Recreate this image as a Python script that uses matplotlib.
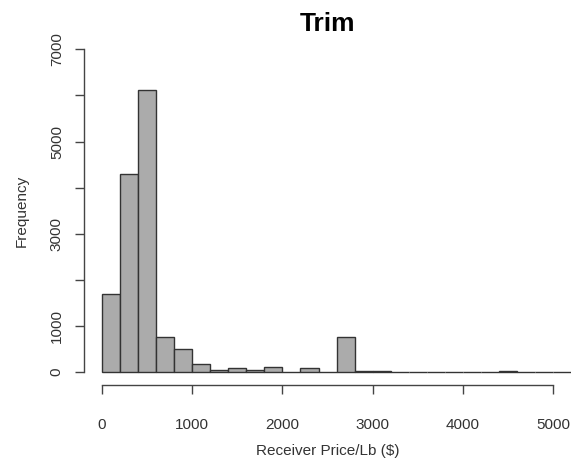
import numpy as np
import matplotlib.pyplot as plt

plt.rcParams['font.family'] = ['Liberation Sans', 'DejaVu Sans']

# histogram of receiver price per lb, 200-wide bins from 0 to 5200
bin_edges = np.arange(0, 5400, 200)
counts = [1690, 4300, 6120, 760, 505, 165, 50, 90, 40, 110,
          0, 90, 0, 765, 30, 30, 0, 0, 0, 0,
          0, 0, 30, 0, 0, 0]
x_ticks = [0, 1000, 2000, 3000, 4000, 5000]
y_ticks = [0, 1000, 2000, 3000, 4000, 5000, 6000, 7000]
y_labels = ['0', '1000', '', '3000', '', '5000', '', '7000']

fig = plt.figure(figsize=(5.73, 4.62), dpi=100)
ax = fig.add_axes([0.1466, 0.1667, 0.850, 0.7545])

ax.hist(bin_edges[:-1], bins=bin_edges, weights=counts,
        color='#ababab', edgecolor='#333333', linewidth=1.0)

ax.set_xlim(-200, 5200)
ax.set_ylim(-280, 7280)

for s in ['top', 'right']:
    ax.spines[s].set_visible(False)
ax.spines['left'].set_bounds(0, 7000)
ax.spines['bottom'].set_bounds(0, 5000)
for s in ['left', 'bottom']:
    ax.spines[s].set_color('#444444')
    ax.spines[s].set_linewidth(1.0)

ax.set_xticks(x_ticks)
ax.set_yticks(y_ticks)
ax.set_yticklabels(y_labels, rotation=90, va='center')
ax.tick_params(axis='both', length=6.5, width=1.0, color='#444444',
               labelsize=11, labelcolor='#333333')
ax.tick_params(axis='x', pad=17)
ax.tick_params(axis='y', pad=8)

ax.set_xlabel('Receiver Price/Lb ($)', fontsize=11, color='#333333', labelpad=9)
ax.set_ylabel('Frequency', fontsize=11, color='#333333', labelpad=15.5)
ax.set_title('Trim', fontsize=19, fontweight='bold', pad=4)

fig.savefig('out.png', dpi=100)
